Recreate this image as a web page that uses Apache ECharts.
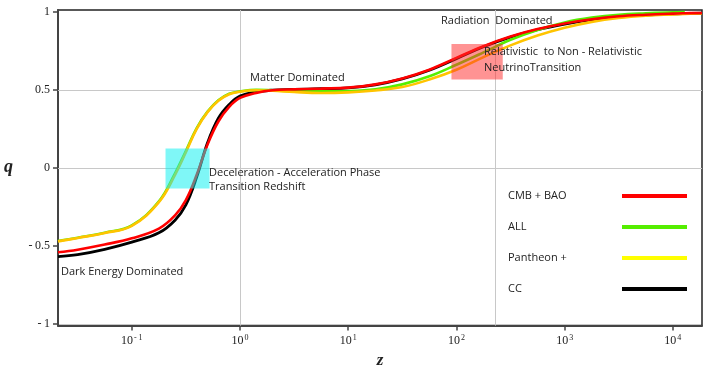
<!DOCTYPE html>
<html>
<head>
<meta charset="utf-8">
<script src="https://cdn.jsdelivr.net/npm/echarts@6/dist/echarts.min.js"></script>
<style>
  html, body { margin: 0; padding: 0; background: #fff; }
  #main { width: 708px; height: 374px; }
</style>
</head>
<body>
<div id="main"></div>
<script>
// redshift samples (shared by all curves)
var zs = [0.0208, 0.0316, 0.0562, 0.1, 0.178, 0.251, 0.316, 0.398, 0.501, 0.631, 0.794,
          1, 1.41, 2, 3.16, 5.62, 10, 17.8, 31.6, 56.2, 100, 178, 316, 562,
          1000, 1780, 3160, 5620, 10000, 12900, 18600];

// deceleration parameter q(z)
var qCmbBao = [-0.542, -0.525, -0.492, -0.452, -0.39, -0.305, -0.207, -0.045, 0.15, 0.297, 0.391,
               0.448, 0.48, 0.497, 0.503, 0.508, 0.514, 0.535, 0.573, 0.629, 0.705, 0.78, 0.842, 0.89,
               0.926, 0.953, 0.972, 0.982, 0.989, 0.991, 0.993];
var qAll = [-0.469, -0.448, -0.416, -0.37, -0.215, -0.035, 0.108, 0.255, 0.36, 0.433, 0.475,
            0.49, 0.5, 0.497, 0.492, 0.49, 0.492, 0.503, 0.535, 0.587, 0.661, 0.74, 0.821, 0.884,
            0.932, 0.963, 0.982, 0.991, 0.997, 0.999, null];
var qPantheon = [-0.472, -0.45, -0.418, -0.372, -0.22, -0.045, 0.1, 0.25, 0.357, 0.43, 0.472,
                 0.488, 0.497, 0.494, 0.486, 0.48, 0.484, 0.496, 0.518, 0.566, 0.629, 0.71, 0.785, 0.848,
                 0.898, 0.936, 0.961, 0.976, 0.984, 0.987, 0.99];
var qCC = [-0.569, -0.557, -0.523, -0.477, -0.417, -0.336, -0.238, -0.06, 0.16, 0.318, 0.406,
           0.46, 0.487, 0.498, 0.502, 0.507, 0.512, 0.532, 0.57, 0.626, 0.7, 0.776, 0.838, 0.886,
           0.922, 0.95, 0.969, 0.98, 0.987, 0.989, 0.991];

var yTicks = [-1, -0.5, 0, 0.5, 1];
var gridX = [1, 229];
var gridY = [0, 0.5];
// shaded transition boxes [[zmin, qmin], [zmax, qmax]]
var decelBox = [[0.205, -0.133], [0.523, 0.123]];
var neutrinoBox = [[90, 0.567], [268, 0.794]];

function pairs(q) {
    var out = [];
    for (var i = 0; i < zs.length; i++) out.push([zs[i], q[i]]);
    return out;
}

var sans = '"Open Sans", sans-serif';
var serif = '"Liberation Serif", "DejaVu Serif", serif';

var myChart = echarts.init(document.getElementById('main'));
myChart.setOption({
    animation: false,
    grid: {
        left: 58, right: 6, top: 10, bottom: 42,
        show: true, borderColor: '#222', borderWidth: 1.5
    },
    legend: {
        orient: 'vertical',
        left: 503, top: 184,
        align: 'right',
        icon: 'rect',
        itemWidth: 65, itemHeight: 4,
        itemGap: 17,
        formatter: function (name) { return '{t|' + name + '}'; },
        textStyle: {
            fontFamily: sans, fontSize: 11, color: '#222', lineHeight: 14,
            rich: { t: { width: 109, align: 'left', fontFamily: sans, fontSize: 11, color: '#222' } }
        },
        data: [
            { name: 'CMB + BAO' },
            { name: 'ALL' },
            { name: 'Pantheon +', itemStyle: { color: '#ffff00' } },
            { name: 'CC' }
        ]
    },
    xAxis: {
        type: 'log',
        logBase: 10,
        min: 0.0208, max: 18600,
        name: 'z',
        nameLocation: 'middle',
        nameGap: 20,
        nameTextStyle: { fontFamily: serif, fontSize: 17, fontWeight: 'bold', fontStyle: 'italic', color: '#222' },
        axisLine: { onZero: false, lineStyle: { color: '#444', width: 2 } },
        axisTick: { length: 5, lineStyle: { color: '#444', width: 1.5 } },
        splitLine: { show: false },
        minorTick: { show: false },
        axisLabel: {
            margin: 8,
            showMinLabel: false, showMaxLabel: false,
            formatter: function (v) {
                var e = Math.round(Math.log10(v));
                return '{b|10}{s|' + (e < 0 ? '- ' + (-e) : e) + '}';
            },
            rich: {
                b: { fontFamily: serif, fontSize: 12, color: '#222' },
                s: { fontFamily: serif, fontSize: 8, color: '#222', padding: [0, 0, 7, 1] }
            }
        }
    },
    yAxis: {
        type: 'value',
        min: -1.012, max: 1.012,
        name: 'q',
        nameLocation: 'middle',
        nameRotate: 0,
        nameGap: 45,
        nameTextStyle: { fontFamily: serif, fontSize: 18, fontWeight: 'bold', fontStyle: 'italic', color: '#222' },
        axisLine: { show: true, onZero: false, lineStyle: { color: '#444', width: 2 } },
        axisTick: { show: true, length: 5, customValues: yTicks, lineStyle: { color: '#444', width: 1.5 } },
        splitLine: { show: false },
        axisLabel: {
            margin: 8,
            customValues: yTicks,
            fontFamily: serif, fontSize: 12, color: '#222',
            formatter: function (v) { return String(v).replace('-', '-\u2009'); }
        }
    },
    series: [
        {
            name: 'grid', type: 'line', data: [], silent: true,
            markLine: {
                z: 1, silent: true, symbol: ['none', 'none'],
                label: { show: false },
                lineStyle: { color: '#c8c8c8', width: 1, type: 'solid' },
                data: gridX.map(function (x) { return { xAxis: x }; })
                    .concat(gridY.map(function (y) { return { yAxis: y }; }))
            }
        },
        { name: 'CC', type: 'line', smooth: 0.4, showSymbol: false, z: 2, color: '#000000',
          lineStyle: { width: 2.8 }, data: pairs(qCC) },
        { name: 'ALL', type: 'line', smooth: 0.4, showSymbol: false, z: 3, color: '#55ee00',
          lineStyle: { width: 2.6 }, data: pairs(qAll) },
        { name: 'Pantheon +', type: 'line', smooth: 0.4, showSymbol: false, z: 4, color: '#ffc400',
          lineStyle: { width: 2.6 }, data: pairs(qPantheon) },
        { name: 'CMB + BAO', type: 'line', smooth: 0.4, showSymbol: false, z: 5, color: '#ff0000',
          lineStyle: { width: 2.6 }, data: pairs(qCmbBao) },
        {
            name: 'boxes', type: 'line', data: [], silent: true, z: 10,
            markArea: {
                z: 10, silent: true,
                label: { show: false },
                data: [
                    [{ coord: decelBox[0], itemStyle: { color: 'rgba(0,240,240,0.5)' } }, { coord: decelBox[1] }],
                    [{ coord: neutrinoBox[0], itemStyle: { color: 'rgba(255,40,40,0.5)' } }, { coord: neutrinoBox[1] }]
                ]
            }
        }
    ],
    graphic: [
        { type: 'text', x: 250, y: 78, z: 20, style: { text: 'Matter Dominated', font: '11px ' + sans, fill: '#222', verticalAlign: 'middle' } },
        { type: 'text', x: 441, y: 21, z: 20, style: { text: 'Radiation  Dominated', font: '11px ' + sans, fill: '#222', verticalAlign: 'middle' } },
        { type: 'text', x: 484, y: 44.5, z: 20, style: { text: 'Relativistic  to Non - Relativistic\nNeutrinoTransition', font: '11px ' + sans, lineHeight: 15.5, fill: '#222', verticalAlign: 'top' } },
        { type: 'text', x: 209, y: 165.3, z: 20, style: { text: 'Deceleration - Acceleration Phase\nTransition Redshift', font: '11px ' + sans, lineHeight: 14.7, fill: '#222', verticalAlign: 'top' } },
        { type: 'text', x: 61, y: 272, z: 20, style: { text: 'Dark Energy Dominated', font: '11px ' + sans, fill: '#222', verticalAlign: 'middle' } }
    ]
});
</script>
</body>
</html>
